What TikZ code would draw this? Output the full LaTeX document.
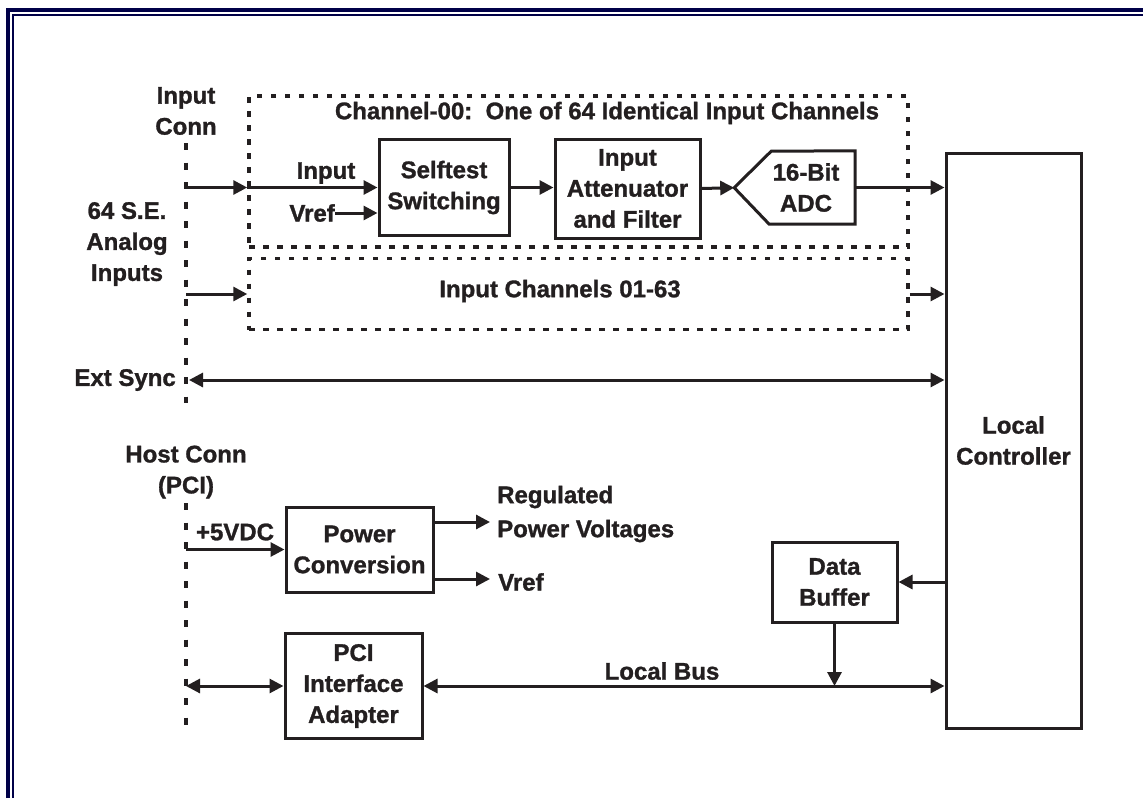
\documentclass[tikz,border=0pt]{standalone}
\usepackage{fontspec}
\setmainfont{Liberation Sans}[BoldFeatures={FakeBold=1.2}]
\usepackage{xcolor}
\usetikzlibrary{arrows.meta}
\definecolor{framenavy}{RGB}{0,0,72}
\definecolor{ink}{RGB}{35,31,32}

\begin{document}
\begin{tikzpicture}[x=1pt,y=-1pt,
		every node/.style={font=\fontsize{24}{31}\selectfont\bfseries,text=ink,align=center,inner sep=0pt},
		box/.style={draw=ink,line width=3pt},
		dashbox/.style={draw=ink,line width=3.5pt,dash pattern=on 5.5pt off 8.5pt},
		conn/.style={draw=ink,line width=4pt,dash pattern=on 7pt off 12.5pt}]
		\useasboundingbox (0,0) rectangle (1143,798);
		% frame
		\draw[framenavy,line width=4pt] (8,798) -- (8,10) -- (1143,10);
		\draw[framenavy,line width=2pt] (13,798) -- (13,15) -- (1143,15);
		%
		\node (inconn) at (186,111) {Input\\Conn};
		\node (analog) at (127,244) {64 S.E.\\Analog\\Inputs};
		\node (hostconn) at (186,472) {Host Conn\\(PCI)};
		\node[dashbox,minimum width=659,minimum height=151] (chzero) at (578.5,171.5) {};
		\node (chtitle) at (607,113) {Channel-00:\ \ One of 64 Identical Input Channels};
		\node[dashbox,minimum width=659,minimum height=71] (chrest) at (578.5,294) {};
		\node (chrestl) at (560,291) {Input Channels 01-63};
		\node[box,minimum width=130,minimum height=96] (selftest) at (444,187.5) {Selftest\\Switching};
		\node[box,minimum width=145,minimum height=99] (atten) at (627.5,188.5) {Input\\Attenuator\\and Filter};
		\node[minimum width=98,minimum height=73] (adc) at (806,187.5) {16-Bit\\ADC};
		\node[box,minimum width=135,minimum height=575] (lc) at (1013.5,440.5) {Local\\Controller};
		\node[box,minimum width=147,minimum height=85] (power) at (359.5,549.5) {Power\\Conversion};
		\node[box,minimum width=137,minimum height=105] (pci) at (353.5,686) {PCI\\Interface\\Adapter};
		\node[box,minimum width=125,minimum height=80] (buffer) at (834.5,582) {Data\\Buffer};
		% labels
		\node (inlbl) at (326,173) {Input};
		\node[anchor=east] (vrefin) at (335,213) {Vref};
		\node[anchor=east] (extsync) at (176,380) {Ext Sync};
		\node (plus5) at (235,532) {+5VDC};
		\node[anchor=west,align=left] (regout) at (497,514) {Regulated\\[3pt]Power Voltages};
		\node[anchor=west] (vrefout) at (498,582) {Vref};
		\node (busl) at (662,671) {Local Bus};
		% connector points
		\coordinate (connAtop) at (186,143);
		\coordinate (connAbot) at (186,403);
		\coordinate (connBtop) at (186,503);
		\coordinate (connBbot) at (186,725);
		\coordinate (inzero) at (186,187.5);
		\coordinate (inrest) at (186,294);
		\coordinate (syncl) at (189,380);
		\coordinate (hpower) at (186,549.5);
		\coordinate (hbus) at (186,686);
		\coordinate (regend) at (490,522);
		\coordinate (vrefend) at (490,579);
		%
		\draw[conn] (connAtop) -- (connAbot);
		\draw[conn] (connBtop) -- (connBbot);
		\draw[box,line join=miter] (adc.north east) -- (adc.south east) -- ++(-86,0)
			-- ++(-35,-36.5) coordinate (adctip) -- ++(37,-36.5) -- cycle;
		%
		\path[->,color=ink,line width=3pt,>={Triangle[length=14pt,width=14pt]}]
		% horizontal arrows
		(inzero) edge (inzero -| chzero.west)
		(inzero -| chzero.west) edge (selftest.west)
		(vrefin.east) edge (vrefin.east -| selftest.west)
		(selftest.east) edge (selftest.east -| atten.west)
		(atten.east) edge (adctip)
		(adc.east) edge (adc.east -| lc.west)
		(inrest) edge (chrest.west)
		(chrest.east) edge (chrest.east -| lc.west)
		(syncl) edge[<->] (syncl -| lc.west)
		(hpower) edge (power.west)
		(regend -| power.east) edge (regend)
		(vrefend -| power.east) edge (vrefend)
		(lc.west |- buffer.east) edge (buffer.east)
		(hbus) edge[<->] (pci.west)
		(pci.east) edge[<->] (pci.east -| lc.west)
		% vertical arrows
		(buffer.south) edge (buffer.south |- pci.east);
	\end{tikzpicture}
\end{document}
